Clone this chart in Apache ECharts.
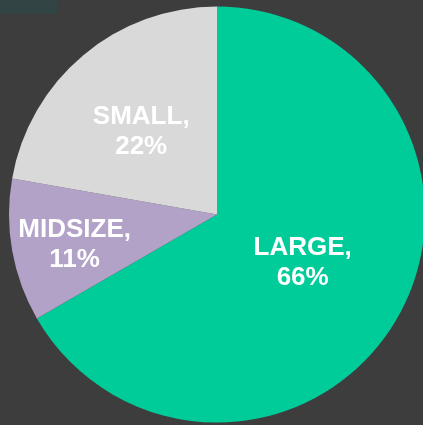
<!DOCTYPE html>
<html>
<head>
<meta charset="utf-8">
<script src="https://cdn.jsdelivr.net/npm/echarts@6/dist/echarts.min.js"></script>
<style>
html,body{margin:0;padding:0;background:#3d3d3d;}
#c{width:423px;height:425px;}
</style>
</head>
<body>
<div id="c"></div>
<script>
var categories = ['LARGE', 'MIDSIZE', 'SMALL'];
var values = [66, 11, 22];

var colors = ['#00cc9a', '#b3a2c8', '#d9d9d9'];
var labelOffsets = [[-7, -5], [-37, 12], [-7, -1]];

var chart = echarts.init(document.getElementById('c'), null, {renderer: 'canvas'});
chart.setOption({
  backgroundColor: '#3d3d3d',
  animation: false,
  graphic: [{
    type: 'rect', left: 0, top: 0, z: 100,
    shape: {width: 57, height: 14},
    style: {fill: '#334444'}
  }],
  series: [{
    type: 'pie',
    center: [217, 214.5],
    radius: [0, 208],
    startAngle: 90,
    clockwise: true,
    avoidLabelOverlap: false,
    label: {
      show: true,
      position: 'inside',
      color: '#ffffff',
      fontFamily: 'Liberation Sans, Arial, sans-serif',
      fontWeight: 'bold',
      fontSize: 26,
      lineHeight: 30,
      align: 'center',
      formatter: function (p) { return p.name + ',\n' + p.value + '%'; }
    },
    labelLine: {show: false},
    itemStyle: {borderWidth: 0},
    emphasis: {disabled: true},
    data: categories.map(function (c, i) {
      return {
        name: c,
        value: values[i],
        itemStyle: {color: colors[i]},
        label: {offset: labelOffsets[i]}
      };
    })
  }]
});
</script>
</body>
</html>
